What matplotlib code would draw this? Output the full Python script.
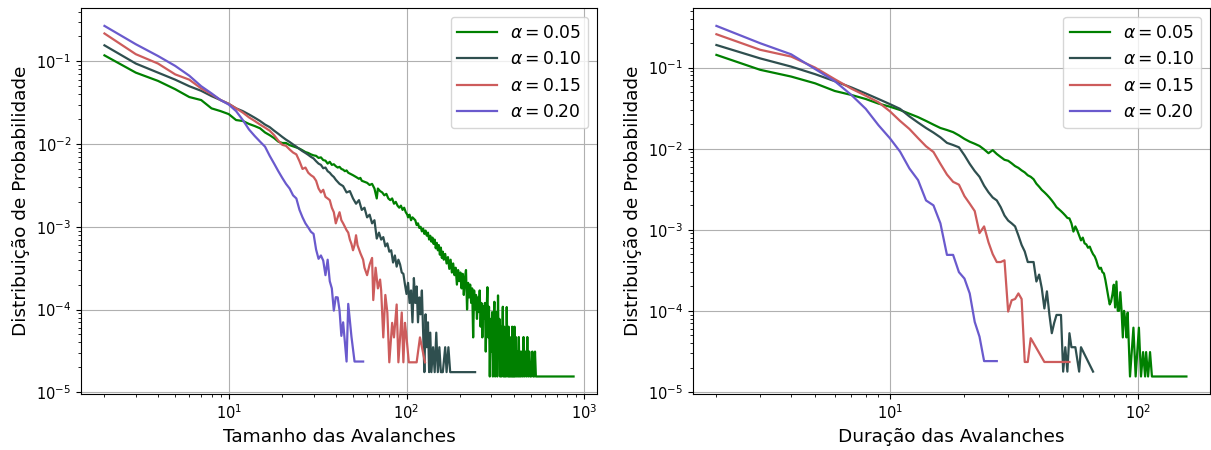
import matplotlib
matplotlib.use("Agg")
import matplotlib.pyplot as plt

# ---------------- data: avalanche size distribution ----------------
size_x_a05 = [2, 3, 4, 5, 6, 7, 8, 9, 10, 11, 12, 13, 14, 15, 16, 17, 18, 19, 20,
              21, 22, 23, 24, 25, 26, 27, 28, 29, 30, 31, 32, 33, 34, 35, 36, 37, 38,
              39, 40, 41, 42, 43, 44, 45, 46, 47, 48, 49, 50, 52, 54, 55, 56, 58, 60,
              62, 64, 66, 68, 69, 71, 73, 75, 77, 79, 81, 83, 85, 87, 89, 91, 93, 95,
              97, 99, 101, 102, 104, 106, 108, 110, 112, 114, 116, 118, 120, 122, 124,
              126, 128, 130, 132, 134, 136, 138, 140, 142, 144, 146, 148, 150, 152, 154,
              156, 158, 160, 162, 165, 168, 171, 174, 177, 180, 183, 186, 189, 192, 195,
              198, 201, 204, 207, 210, 213, 216, 219, 222, 225, 228, 231, 234, 237, 240,
              243, 246, 249, 252, 255, 258, 261, 264, 267, 270, 273, 276, 279, 282, 285,
              288, 291, 294, 297, 300, 303, 306, 309, 312, 315, 318, 321, 324, 327, 330,
              333, 336, 339, 342, 345, 348, 351, 354, 357, 360, 363, 366, 369, 372, 375,
              378, 381, 384, 387, 390, 393, 396, 399, 402, 405, 408, 412, 416, 420, 424,
              428, 432, 436, 440, 445, 450, 455, 460, 466, 472, 478, 484, 490, 496, 502,
              510, 516, 522, 528, 534, 870]
size_p_a05 = [.118, .073, .058, .046, .037, .034, .027, .025, .023, .0195, .019, .0175,
              .0165, .0155, .0138, .0128, .0118, .0107, .0103, .0103, .0097, .0094, .0091,
              .0088, .0084, .0080, .0078, .0075, .0073, .0072, .0068, .0069, .0064, .0063,
              .0058, .0061, .0056, .0057, .0054, .0052, .0053, .0050, .0049, .0047, .0048,
              .0045, .0044, .0043, .0042, .0040, .0038, .0039, .0036, .0035, .0034, .0032,
              .0033, .0029, .0022, .0029, .0027, .0026, .0024, .0025, .0022, .0021, .0022,
              .0019, .0020, .0018, .0017, .0018, .0016, .0017, .0015, .0014, .0013, .0014,
              .0012, .0013, .00125, .0012, .00105, .0011, .00097, .0010, .00088, .00095,
              .00082, .0009, .00078, .00085, .0007, .00078, .00066, .00074, .00062, .0007,
              .00055, .00064, .00052, .0006, .00046, .00056, .00042, .0005, .0004, .00047,
              .00036, .00043, .00031, .0004, .00028, .00036, .00026, .00032, .0002, .0003,
              .00022, .00028, .00018, .00027, .00015, .00024, .0003, .0001, .00021, .00014,
              .0002, .00012, .00018, 4.6e-5, .00017, .0001, .00015, 7.7e-5, .00014, 9.3e-5,
              .00017, 6.2e-5, .00012, 4.6e-5, .00011, 7.7e-5, .00012, 3.1e-5, 9.3e-5,
              .000186, 4.6e-5, .000108, 1.55e-5, 7.7e-5, 3.1e-5, 9.3e-5, 1.55e-5, 6.2e-5,
              .000124, 1.55e-5, 4.65e-5, 9.3e-5, 1.55e-5, .000148, 3.1e-5, 7.7e-5, 1.55e-5,
              6.2e-5, 1.55e-5, 4.65e-5, .000108, 1.55e-5, 6.2e-5, 1.55e-5, 4.65e-5, 1.55e-5,
              .000107, 3.1e-5, 1.55e-5, 6.2e-5, 1.55e-5, 4.65e-5, 1.55e-5, 3.1e-5, 1.55e-5,
              6.2e-5, 1.55e-5, 3.1e-5, 1.55e-5, 6.2e-5, 1.55e-5, 4.65e-5, 1.55e-5, 3.1e-5,
              1.55e-5, 4.65e-5, 1.55e-5, 3.1e-5, 1.55e-5, 3.1e-5, 1.55e-5, 4.65e-5, 1.55e-5,
              3.1e-5, 1.55e-5, 4.65e-5, 1.55e-5, 3.1e-5, 1.55e-5, 1.55e-5, 3.1e-5, 1.55e-5,
              1.55e-5, 3.1e-5, 1.55e-5, 1.55e-5]

size_x_a10 = [2, 3, 4, 5, 6, 7, 8, 9, 10, 11, 12, 13, 14, 15, 16, 17, 18, 19, 20, 21,
              22, 23, 24, 25, 26, 27, 28, 29, 30, 31, 32, 33, 34, 35, 36, 37, 38, 39, 40,
              42, 44, 46, 48, 50, 52, 54, 56, 58, 60, 62, 64, 66, 68, 70, 72, 74, 76, 78,
              80, 82, 84, 86, 88, 90, 92, 94, 96, 98, 100, 102, 104, 106, 108, 110, 112,
              114, 116, 118, 120, 122, 124, 126, 128, 130, 132, 134, 136, 138, 141, 144,
              147, 150, 153, 156, 160, 165, 168, 172, 176, 243]
size_p_a10 = [.156, .094, .073, .060, .050, .044, .038, .034, .0306, .027, .025, .0228,
              .0208, .019, .0172, .016, .0145, .0133, .0122, .0113, .0106, .0099, .0093,
              .0087, .0082, .0078, .0074, .0070, .0067, .0062, .0058, .0056, .0051, .0052,
              .0047, .0045, .0042, .0040, .0037, .0033, .0031, .0026, .0027, .0022, .0019,
              .0021, .0016, .0017, .0013, .0014, .0011, .0012, .00072, .00085, .0007,
              .00075, .00058, .00063, .0005, .00052, .00037, .00045, .00033, .0004, .00035,
              .00028, .00027, .0002, .000154, .00021, .00012, .00017, 7e-5, .00024, .00012,
              .00019, 7e-5, .00014, 8.75e-5, .00017, 5.25e-5, 1.75e-5, 8.75e-5, 3.5e-5,
              7e-5, 1.75e-5, 5.25e-5, 1.75e-5, 3.5e-5, 1.75e-5, 5.25e-5, 1.75e-5, 3.5e-5,
              1.75e-5, 1.75e-5, 3.5e-5, 1.75e-5, 3.5e-5, 1.75e-5, 1.75e-5]

size_x_a15 = [2, 3, 4, 5, 6, 7, 8, 9, 10, 11, 12, 13, 14, 15, 16, 17, 18, 19, 20, 21,
              22, 23, 24, 25, 26, 27, 28, 29, 30, 31, 32, 33, 34, 35, 36, 37, 38, 39, 40,
              41, 42, 43, 44, 45, 46, 47, 48, 49, 50, 51, 52, 53, 55, 57, 58, 60, 62, 64,
              65, 67, 69, 71, 72, 74, 76, 78, 80, 83, 85, 88, 90, 92, 94, 96, 98, 100,
              103, 114, 119, 127]
size_p_a15 = [.217, .122, .094, .0695, .060, .047, .040, .034, .0306, .027, .024, .021,
              .019, .0172, .0158, .0145, .0128, .011, .0098, .0095, .0086, .0079, .0075,
              .0062, .0050, .0052, .0045, .0042, .0040, .0036, .0029, .0026, .0028, .0023,
              .0022, .0021, .0017, .0015, .0011, .0013, .0015, .0012, .0011, .0010, .00091,
              .00085, .0007, .00062, .00052, .0006, .00079, .0006, .00048, .0004, .00032,
              .00026, .00035, .00042, .00013, .00032, .00018, .00023, .00017, 4.6e-5,
              .00015, 9.2e-5, 2.3e-5, 6.9e-5, 4.6e-5, .000115, 2.3e-5, 4.6e-5, 9.2e-5,
              2.3e-5, 6.9e-5, 4.6e-5, 2.3e-5, 2.3e-5, 4.6e-5, 2.3e-5]

size_x_a20 = [2, 3, 4, 5, 6, 7, 8, 9, 10, 11, 12, 13, 14, 15, 16, 17, 18, 19, 20, 21,
              22, 23, 24, 25, 26, 27, 28, 29, 30, 31, 32, 33, 34, 35, 36, 37, 38, 39, 40,
              41, 42, 43, 44, 46, 47, 49, 51, 57]
size_p_a20 = [.268, .161, .116, .088, .067, .050, .041, .034, .030, .025, .0195, .015,
              .0125, .0107, .0093, .0072, .0058, .0047, .0039, .0033, .0029, .0024, .0022,
              .0016, .0013, .0011, .00098, .00087, .00082, .00053, .00041, .00045, .00039,
              .00026, .00040, .00022, .00018, 9.7e-5, .000141, .00014, 9.7e-5, 4.8e-5, 7e-5,
              2.35e-5, .000117, 4.7e-5, 2.35e-5, 2.35e-5]

# ---------------- data: avalanche duration distribution ----------------
dur_x_a05 = [2, 3, 4, 5, 6, 7, 8, 9, 10, 11, 12, 13, 14, 15, 16, 17, 18, 19, 20, 21,
             22, 23, 24, 25, 26, 27, 28, 29, 30, 31, 32, 33, 34, 35, 36, 37, 38, 39, 40,
             41, 42, 43, 44, 45, 46, 47, 48, 49, 50, 51, 52, 53, 54, 55, 56, 57, 58, 59,
             60, 61, 62, 63, 64, 65, 66, 67, 68, 69, 70, 71, 72, 73, 74, 75, 76, 77, 78,
             79, 80, 81, 82, 83, 84, 85, 86, 87, 88, 89, 90, 91, 93, 96, 98, 101, 103,
             105, 107, 108, 110, 112, 114, 157]
dur_p_a05 = [.1435, .094, .0776, .064, .0515, .046, .041, .036, .033, .030, .027, .0245,
             .022, .0198, .018, .017, .016, .0146, .0132, .0122, .0115, .0108, .0098,
             .0088, .0096, .0086, .0079, .0073, .0071, .0066, .0061, .0058, .0054, .0051,
             .0047, .0045, .0042, .0037, .0034, .0031, .0029, .0027, .0025, .0023, .0021,
             .0019, .0018, .0017, .0016, .0015, .0014, .00138, .0012, .00095, .0011,
             .00098, .00085, .00074, .0008, .00068, .00066, .0006, .00062, .00055, .0005,
             .00047, .00042, .00036, .00033, .00034, .0003, .00029, .00024, .00019, .00015,
             .00012, .00013, .00016, .00021, .00011, .00023, .0001, .0001, .00017, .0001,
             4.7e-5, .0001, 7.7e-5, 4.7e-5, 9.5e-5, 1.55e-5, 6.2e-5, 1.55e-5, 6.2e-5,
             1.55e-5, 3.1e-5, 1.55e-5, 3.1e-5, 1.55e-5, 3.1e-5, 1.55e-5, 1.55e-5]

dur_x_a10 = [2, 3, 4, 5, 6, 7, 8, 9, 10, 11, 12, 13, 14, 15, 16, 17, 18, 19, 20, 21, 22,
             23, 24, 25, 26, 27, 28, 29, 30, 31, 32, 33, 34, 35, 36, 37, 38, 39, 40, 41,
             42, 43, 44, 45, 46, 47, 48, 49, 50, 51, 52, 53, 54, 56, 58, 59, 66]
dur_p_a10 = [.19, .13, .103, .083, .068, .057, .048, .041, .0355, .031, .025, .021, .018,
             .0158, .0138, .0118, .0111, .0104, .0083, .0065, .0053, .0045, .0035, .0029,
             .0025, .0023, .0019, .0015, .0013, .0012, .0011, .00085, .00065, .00054,
             .0004, .0004, .0004, .00023, .00028, .00019, .000107, .000174, 9e-5, 5.3e-5,
             7.1e-5, 8.9e-5, 8.9e-5, 8.9e-5, 1.78e-5, 3.56e-5, 1.78e-5, 5.3e-5, 3.56e-5,
             3.56e-5, 1.78e-5, 3.56e-5, 1.78e-5]

dur_x_a15 = [2, 3, 4, 5, 6, 7, 8, 9, 10, 11, 12, 13, 14, 15, 16, 17, 18, 19, 20, 21, 22,
             23, 24, 25, 26, 27, 28, 29, 30, 31, 32, 33, 34, 35, 36, 37, 42, 53]
dur_p_a15 = [.258, .166, .137, .10, .072, .055, .045, .0374, .029, .022, .0175, .0135,
             .0107, .0091, .0065, .0048, .0039, .0036, .0026, .0021, .0017, .00091, .0011,
             .0007, .0005, .0004, .0004, .00042, 9.8e-5, .000135, .00014, .000164, .00014,
             2.34e-5, 2.34e-5, 4.6e-5, 2.34e-5, 2.34e-5]

dur_x_a20 = [2, 3, 4, 5, 6, 7, 8, 9, 10, 11, 12, 13, 14, 15, 16, 17, 18, 19, 20, 21, 22,
             23, 24, 27]
dur_p_a20 = [.327, .20, .146, .096, .068, .046, .031, .0195, .0135, .0092, .0057, .0041,
             .0023, .0020, .0012, .00049, .00049, .0003, .00025, .000164, 7.3e-5, 4.8e-5,
             2.4e-5, 2.4e-5]

labels = [r"$\alpha = 0.05$", r"$\alpha = 0.10$", r"$\alpha = 0.15$", r"$\alpha = 0.20$"]
colors = ["green", "darkslategray", "indianred", "slateblue"]

size_series = [(size_x_a05, size_p_a05), (size_x_a10, size_p_a10),
               (size_x_a15, size_p_a15), (size_x_a20, size_p_a20)]
dur_series = [(dur_x_a05, dur_p_a05), (dur_x_a10, dur_p_a10),
              (dur_x_a15, dur_p_a15), (dur_x_a20, dur_p_a20)]

fig = plt.figure(figsize=(12.11, 4.5), dpi=100)
ax1 = fig.add_axes([0.0669, 0.1244, 0.4261, 0.857])
ax2 = fig.add_axes([0.5722, 0.1244, 0.4269, 0.857])

for ax, series, xlabel in [(ax1, size_series, "Tamanho das Avalanches"),
                           (ax2, dur_series, "Duração das Avalanches")]:
    for (xs, ps), c, lab in zip(series, colors, labels):
        ax.plot(xs, ps, color=c, lw=1.6, label=lab)
    ax.set_xscale("log")
    ax.set_yscale("log")
    ax.grid(True)
    ax.set_xlabel(xlabel, fontsize=13.3)
    ax.set_ylabel("Distribuição de Probabilidade", fontsize=13.3)
    ax.tick_params(labelsize=10.5)
    ax.legend(fontsize=12.3, loc="upper right", handlelength=2.3)

fig.savefig("out.png", dpi=100)
